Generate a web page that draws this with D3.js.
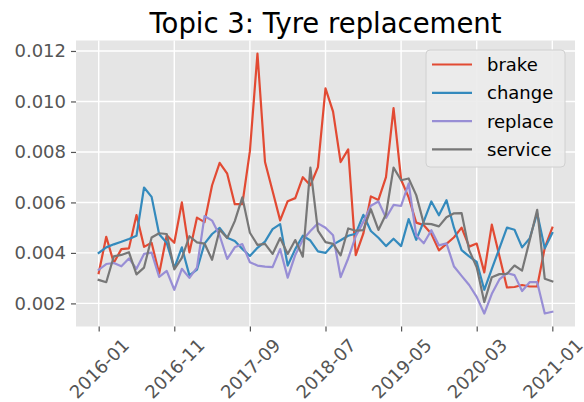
<!DOCTYPE html>
<html>
<head>
<meta charset="utf-8">
<script src="https://cdn.jsdelivr.net/npm/d3@7/dist/d3.min.js"></script>
<style>
  html, body { margin: 0; padding: 0; background: #ffffff; }
  svg { display: block; font-family: "DejaVu Sans", sans-serif; }
  svg text { font-family: "DejaVu Sans", sans-serif; }
</style>
</head>
<body>
<svg id="chart" width="584" height="402"></svg>
<script>
const months = [
  "2016-01","2016-02","2016-03","2016-04","2016-05","2016-06","2016-07","2016-08","2016-09","2016-10","2016-11","2016-12",
  "2017-01","2017-02","2017-03","2017-04","2017-05","2017-06","2017-07","2017-08","2017-09","2017-10","2017-11","2017-12",
  "2018-01","2018-02","2018-03","2018-04","2018-05","2018-06","2018-07","2018-08","2018-09","2018-10","2018-11","2018-12",
  "2019-01","2019-02","2019-03","2019-04","2019-05","2019-06","2019-07","2019-08","2019-09","2019-10","2019-11","2019-12",
  "2020-01","2020-02","2020-03","2020-04","2020-05","2020-06","2020-07","2020-08","2020-09","2020-10","2020-11","2020-12",
  "2021-01"
];

const brake = [
  0.0032, 0.00464, 0.00361, 0.00415, 0.00418, 0.0055, 0.00424, 0.0044, 0.00318, 0.0047, 0.0044,
  0.006, 0.00402, 0.0054, 0.00522, 0.00668, 0.00757, 0.00714, 0.00593, 0.00593, 0.00803,
  0.0119, 0.0076, 0.00645, 0.00529, 0.00605, 0.00617, 0.007, 0.00668, 0.0074, 0.01052,
  0.0096, 0.0076, 0.0081, 0.00391, 0.00476, 0.00624, 0.0061, 0.007, 0.00974, 0.0069,
  0.0062, 0.0052, 0.0051, 0.00476, 0.0041, 0.00436, 0.00462, 0.005, 0.00425, 0.00437,
  0.00323, 0.00512, 0.00388, 0.00263, 0.00265, 0.00273, 0.00267, 0.00267, 0.0042, 0.005
];
const change = [
  0.004, 0.00422, 0.00434, 0.00444, 0.00455, 0.00468, 0.00659, 0.00622, 0.00474, 0.0044, 0.0034,
  0.00422, 0.00311, 0.00334, 0.00437, 0.00475, 0.00499, 0.0046, 0.00447, 0.00416, 0.00388,
  0.0042, 0.00445, 0.00494, 0.00514, 0.0035, 0.00415, 0.00468, 0.00449, 0.00406, 0.004,
  0.00433, 0.0045, 0.00468, 0.00476, 0.00551, 0.00487, 0.0046, 0.00427, 0.00456, 0.00427,
  0.00534, 0.00452, 0.00525, 0.00604, 0.00549, 0.00609, 0.00499, 0.00411, 0.00386, 0.00364,
  0.00254, 0.00337, 0.00418, 0.005, 0.00492, 0.00422, 0.00457, 0.00557, 0.00418, 0.00479
];
const replace = [
  0.00333, 0.00356, 0.0036, 0.00347, 0.00378, 0.00337, 0.00396, 0.00401, 0.00305, 0.00329, 0.00254,
  0.00337, 0.00301, 0.00342, 0.00546, 0.00528, 0.00469, 0.00376, 0.00422, 0.00435, 0.00363,
  0.0035, 0.00346, 0.00344, 0.00415, 0.00302, 0.00392, 0.00452, 0.00487, 0.00517, 0.005,
  0.0047, 0.00304, 0.00378, 0.00466, 0.00523, 0.00587, 0.00604, 0.00539, 0.0059, 0.00586,
  0.00675, 0.00469, 0.00438, 0.0049, 0.0043, 0.00438, 0.00346, 0.00309, 0.00273, 0.00226,
  0.0016, 0.00238, 0.00295, 0.0032, 0.00312, 0.00249, 0.00284, 0.00284, 0.0016, 0.00167
];
const service = [
  0.00293, 0.00284, 0.00386, 0.00392, 0.00403, 0.00315, 0.00342, 0.00461, 0.00478, 0.00475, 0.00335,
  0.0038, 0.00466, 0.00442, 0.00437, 0.00373, 0.00492, 0.00459, 0.00526, 0.0062, 0.0048,
  0.00432, 0.00436, 0.00396, 0.00459, 0.00396, 0.00451, 0.00385, 0.00738, 0.00488, 0.00443,
  0.00436, 0.0039, 0.00497, 0.00488, 0.0049, 0.00573, 0.00491, 0.00553, 0.00738, 0.00688,
  0.00695, 0.00629, 0.00516, 0.00514, 0.00505, 0.00541, 0.00557, 0.00558, 0.00411, 0.00343,
  0.00205, 0.00304, 0.00316, 0.00317, 0.0035, 0.0033, 0.00449, 0.00571, 0.00298, 0.00287
];

const seriesNames = ["brake", "change", "replace", "service"];
const seriesValues = [brake, change, replace, service];
const seriesColors = ["#E24A33", "#348ABD", "#988ED5", "#777777"];
const xTickLabels = ["2016-01","2016-11","2017-09","2018-07","2019-05","2020-03","2021-01"];
const yTickValues = [0.002, 0.004, 0.006, 0.008, 0.010, 0.012];
const titleText = "Topic 3: Tyre replacement";

const FONT = '"DejaVu Sans", sans-serif';
const svg = d3.select("#chart");
const plot = { left: 76, right: 575, top: 40.5, bottom: 326.5 };

const n = months.length;
const xPad = (n - 1) * 0.05;
const x = d3.scaleLinear().domain([-xPad, (n - 1) + xPad]).range([plot.left, plot.right]);

const allVals = seriesValues.flat();
const yMin = d3.min(allVals), yMax = d3.max(allVals);
const yPad = (yMax - yMin) * 0.05;
const y = d3.scaleLinear().domain([yMin - yPad, yMax + yPad]).range([plot.bottom, plot.top]);

// background
svg.append("rect")
  .attr("x", plot.left).attr("y", plot.top)
  .attr("width", plot.right - plot.left).attr("height", plot.bottom - plot.top)
  .attr("fill", "#E5E5E5");

const xTickIdx = xTickLabels.map(l => months.indexOf(l));

// grid
const grid = svg.append("g");
grid.selectAll(".vg").data(xTickIdx).enter().append("line")
  .attr("x1", d => x(d)).attr("x2", d => x(d))
  .attr("y1", plot.top).attr("y2", plot.bottom)
  .attr("stroke", "#ffffff").attr("stroke-width", 1.4);
grid.selectAll(".hg").data(yTickValues).enter().append("line")
  .attr("x1", plot.left).attr("x2", plot.right)
  .attr("y1", d => y(d)).attr("y2", d => y(d))
  .attr("stroke", "#ffffff").attr("stroke-width", 1.4);

// axes
const xAxis = d3.axisBottom(x)
  .tickValues(xTickIdx)
  .tickFormat(d => months[d])
  .tickSize(5).tickPadding(4);
const gx = svg.append("g").attr("transform", `translate(0,${plot.bottom})`).call(xAxis)
  .attr("font-family", FONT).attr("font-size", 18);
gx.select(".domain").remove();
gx.selectAll(".tick line").attr("stroke", "#555555").attr("stroke-width", 1.2);
gx.selectAll(".tick text")
  .attr("fill", "#555555")
  .style("font-family", FONT)
  .style("font-size", "18px")
  .attr("text-anchor", "middle")
  .attr("dominant-baseline", "central")
  .attr("dy", null)
  .attr("y", 0)
  .attr("transform", "translate(0,42) rotate(-45)");

const yAxis = d3.axisLeft(y)
  .tickValues(yTickValues)
  .tickFormat(d3.format(".3f"))
  .tickSize(5).tickPadding(5);
const gy = svg.append("g").attr("transform", `translate(${plot.left},0)`).call(yAxis)
  .attr("font-family", FONT).attr("font-size", 18);
gy.select(".domain").remove();
gy.selectAll(".tick line").attr("stroke", "#555555").attr("stroke-width", 1.2);
gy.selectAll(".tick text")
  .attr("fill", "#555555")
  .style("font-family", FONT)
  .style("font-size", "18px");

// lines
const line = d3.line().x((d, i) => x(i)).y(d => y(d));
const lines = svg.append("g");
seriesValues.forEach((vals, k) => {
  lines.append("path")
    .datum(vals)
    .attr("d", line)
    .attr("fill", "none")
    .attr("stroke", seriesColors[k])
    .attr("stroke-width", 2.2)
    .attr("stroke-linejoin", "round")
    .attr("stroke-linecap", "square");
});

// title
svg.append("text")
  .attr("x", (plot.left + plot.right) / 2)
  .attr("y", 33)
  .attr("text-anchor", "middle")
  .style("font-family", FONT)
  .style("font-size", "27.5px")
  .attr("fill", "#000000")
  .text(titleText);

// legend
const lg = svg.append("g");
lg.append("rect")
  .attr("x", 426).attr("y", 50)
  .attr("width", 139).attr("height", 117)
  .attr("rx", 4).attr("ry", 4)
  .attr("fill", "#EBEBEB").attr("fill-opacity", 0.9)
  .attr("stroke", "#D0D0D0").attr("stroke-width", 1);
seriesNames.forEach((name, k) => {
  const ly = 64.5 + k * 28.3;
  lg.append("line")
    .attr("x1", 432).attr("x2", 472)
    .attr("y1", ly).attr("y2", ly)
    .attr("stroke", seriesColors[k]).attr("stroke-width", 2.2);
  lg.append("text")
    .attr("x", 487).attr("y", ly)
    .attr("dominant-baseline", "central")
    .style("font-family", FONT)
    .style("font-size", "18px")
    .attr("fill", "#000000")
    .text(name);
});
</script>
</body>
</html>
